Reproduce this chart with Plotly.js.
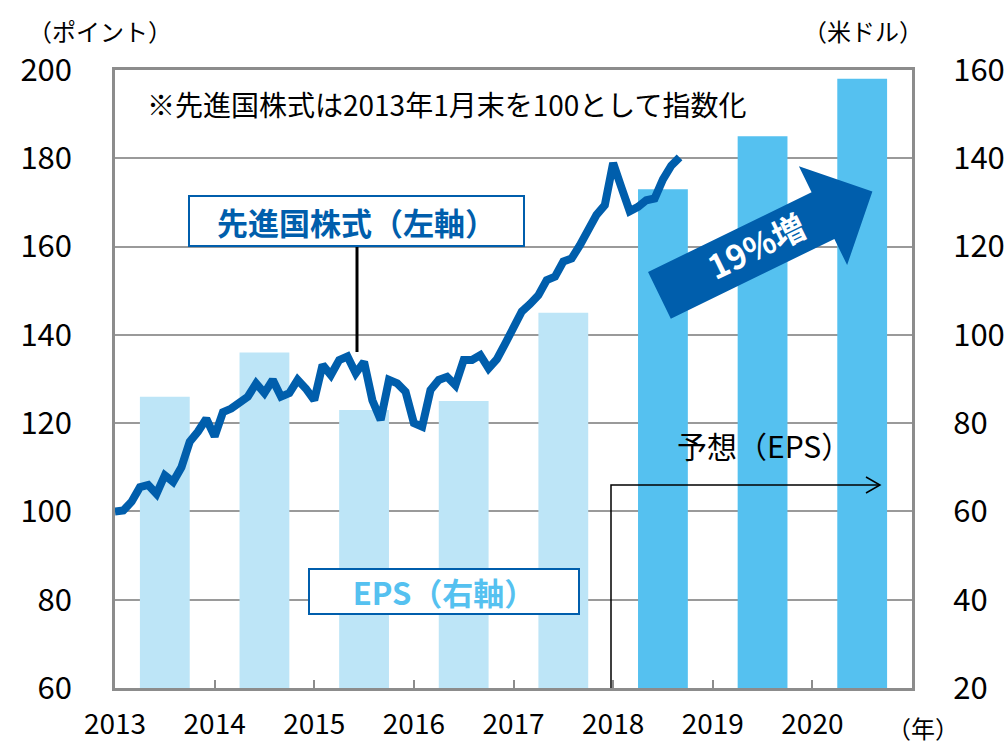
<!DOCTYPE html>
<html><head><meta charset="utf-8">
<script src="https://cdn.plot.ly/plotly-3.0.1.min.js"></script>
<style>html,body{margin:0;padding:0;background:#fff}#chart{width:1004px;height:747px}</style>
</head><body><div id="chart"></div>
<script>
// ---- data ----
const years = [2013, 2014, 2015, 2016, 2017, 2018, 2019, 2020];
const epsValues = [86, 96, 83, 85, 105, 133, 145, 158];           // 米ドル (right axis)
const epsIsForecast = [false, false, false, false, false, true, true, true];
const xTickValues = [2013, 2014, 2015, 2016, 2017, 2018, 2019, 2020, 2021];
const xTickLabels = ['2013', '2014', '2015', '2016', '2017', '2018', '2019', '2020', ''];
// 先進国株式 monthly index (2013年1月末 = 100), Jan 2013 .. Sep 2018
const stockIndex = [
  100, 100.2, 102.2, 105.5, 106, 104, 108.2, 106.7, 110, 115.8,
  118.1, 121, 117, 122.5, 123.3, 124.9, 126, 129, 126.8, 129.8,
  126, 126.8, 129.8, 127.8, 125.2, 133.2, 130.9, 134.3, 135.1, 131.3,
  133.9, 125.2, 120.7, 129.8, 129, 127.1, 120, 119.2, 127.5, 129.8,
  130.5, 128.6, 134.3, 134.3, 135.4, 132.4, 134.5, 138, 141.8, 145.3,
  147, 149, 152.4, 153.2, 156.6, 157.3, 160.3, 164.2, 167.2, 169.4,
  178.9, 173.4, 168, 169, 170.5, 170.9, 175.2, 178.3, 180.2
];

// ---- geometry helpers (plot area in pixels) ----
const L = 115, R = 912, T = 70, B = 688;
const px = x => (x - L) / (R - L);
const py = y => (B - y) / (B - T);

const stockX = stockIndex.map((_, i) => years[0] + i / 12);
const barX = years.map(y => y + 0.5);
const barColors = epsIsForecast.map(f => f ? '#55c1f0' : '#bde5f7');

const FONT = '"Noto Sans CJK JP", "Noto Sans", sans-serif';
const BLUE = '#005eac';

const traces = [
  { type: 'bar', x: barX, y: epsValues, width: 0.5, marker: { color: barColors, line: { width: 0 } },
    yaxis: 'y', hoverinfo: 'skip' },
  { type: 'scatter', mode: 'lines', x: stockX, y: stockIndex, yaxis: 'y2',
    line: { color: BLUE, width: 8 }, hoverinfo: 'skip' }
];

// big arrow polygon
function bigArrow() {
  const ang = 26 * Math.PI / 180;
  const ux = Math.cos(ang), uy = -Math.sin(ang);
  const nx = Math.sin(ang), ny = Math.cos(ang);
  const ox = 659.4, oy = 295.4;      // tail mid
  const len = 237, headBase = 182, sh = 26, hh = 55;
  const p = (a, b) => [ox + ux * a + nx * b, oy + uy * a + ny * b];
  const pts = [p(0, -sh), p(headBase, -sh), p(headBase, -hh), p(len, 0), p(headBase, hh), p(headBase, sh), p(0, sh)];
  return 'M ' + pts.map(q => px(q[0]).toFixed(4) + ',' + py(q[1]).toFixed(4)).join(' L ') + ' Z';
}

const shapes = [
  { type: 'line', xref: 'paper', yref: 'paper', x0: px(357), y0: py(247), x1: px(357), y1: py(352),
    line: { color: '#000', width: 3 } },
  { type: 'path', xref: 'paper', yref: 'paper',
    path: `M ${px(611)},${py(688)} L ${px(611)},${py(485)} L ${px(880)},${py(485)}`,
    line: { color: '#000', width: 1.5 } },
  { type: 'path', xref: 'paper', yref: 'paper',
    path: `M ${px(866)},${py(477)} L ${px(880)},${py(485)} L ${px(866)},${py(493)}`,
    line: { color: '#000', width: 1.5 } },
  { type: 'path', xref: 'paper', yref: 'paper', path: bigArrow(), fillcolor: BLUE, line: { width: 0 } }
];

const annotations = [
  { xref: 'paper', yref: 'paper', x: px(100), y: py(30), text: '（ポイント）', showarrow: false,
    font: { size: 24, color: '#000' }, xanchor: 'center', yanchor: 'middle' },
  { xref: 'paper', yref: 'paper', x: px(863), y: py(30), text: '（米ドル）', showarrow: false,
    font: { size: 24, color: '#000' }, xanchor: 'center', yanchor: 'middle' },
  { xref: 'paper', yref: 'paper', x: px(923), y: py(727), text: '（年）', showarrow: false,
    font: { size: 24, color: '#000' }, xanchor: 'center', yanchor: 'middle' },
  { xref: 'paper', yref: 'paper', x: px(145), y: py(104), text: '※先進国株式は2013年1月末を100として指数化', showarrow: false,
    font: { size: 28, color: '#000' }, xanchor: 'left', yanchor: 'middle' },
  { xref: 'paper', yref: 'paper', x: px(356.5), y: py(221), text: '<b>先進国株式（左軸）</b>', showarrow: false,
    font: { size: 31, color: BLUE }, xanchor: 'center', yanchor: 'middle',
    width: 333, height: 48, bgcolor: '#fff', bordercolor: BLUE, borderwidth: 2, borderpad: 0 },
  { xref: 'paper', yref: 'paper', x: px(444), y: py(591.5), text: '<b>EPS（右軸）</b>', showarrow: false,
    font: { size: 31, color: '#55c1f0' }, xanchor: 'center', yanchor: 'middle',
    width: 268, height: 43, bgcolor: '#fff', bordercolor: BLUE, borderwidth: 2, borderpad: 0 },
  { xref: 'paper', yref: 'paper', x: px(764), y: py(445), text: '予想（EPS）', showarrow: false,
    font: { size: 30, color: '#000' }, xanchor: 'center', yanchor: 'middle' },
  { xref: 'paper', yref: 'paper', x: px(756), y: py(245), text: '<b>19%増</b>', showarrow: false,
    font: { size: 33, color: '#fff' }, textangle: -26, xanchor: 'center', yanchor: 'middle' }
];

const layout = {
  width: 1004, height: 747,
  margin: { l: L, r: 1004 - R, t: T, b: 747 - B, pad: 0 },
  paper_bgcolor: '#fff', plot_bgcolor: '#fff',
  font: { family: FONT, color: '#000' },
  showlegend: false,
  xaxis: {
    range: [2013, 2021], tickmode: 'array', tickvals: xTickValues, ticktext: xTickLabels,
    ticks: 'inside', ticklen: 8, tickwidth: 2, tickcolor: '#8c8c8c',
    showline: true, linecolor: '#8c8c8c', linewidth: 3, mirror: true,
    showgrid: false, zeroline: false, tickfont: { size: 28, color: '#000' }, ticklabelstandoff: 9
  },
  yaxis: {
    range: [20, 160], tick0: 20, dtick: 20, side: 'right',
    showgrid: true, gridcolor: '#9a9a9a', gridwidth: 2,
    showline: true, linecolor: '#8c8c8c', linewidth: 3, mirror: true,
    ticks: '', zeroline: false, tickfont: { size: 31, color: '#000' }, ticklabelstandoff: 32
  },
  yaxis2: {
    range: [60, 200], tick0: 60, dtick: 20, side: 'left', overlaying: 'y',
    showgrid: false, zeroline: false, showline: false, ticks: '',
    tickfont: { size: 31, color: '#000' }, ticklabelstandoff: 42
  },
  shapes: shapes,
  annotations: annotations
};

Plotly.newPlot('chart', traces, layout, { staticPlot: true, displayModeBar: false });
</script>
</body></html>
